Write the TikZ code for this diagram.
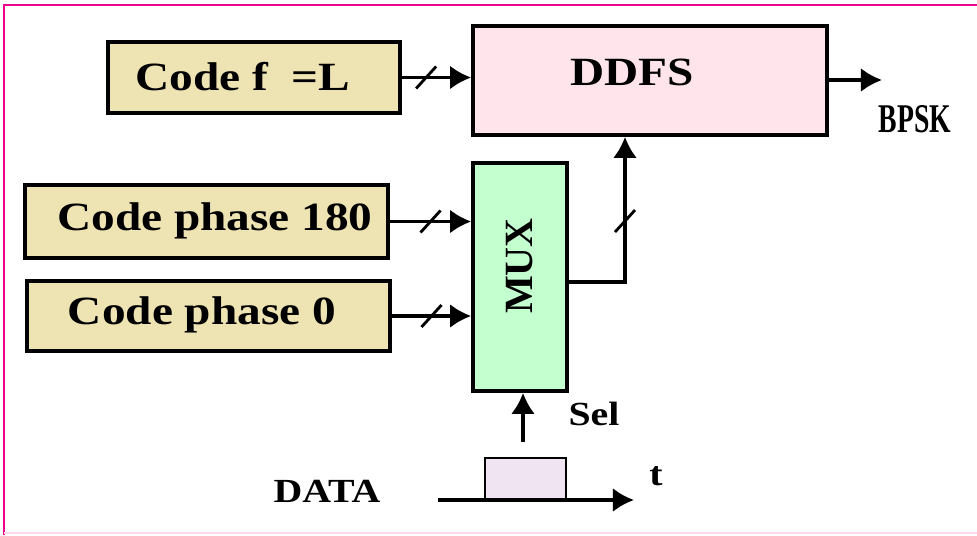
\documentclass[tikz,border=0pt]{standalone}
\usepackage{fontspec}
\usetikzlibrary{arrows.meta}
\newfontfamily\lblfont[FakeStretch=1.18]{Liberation Serif}
\newfontfamily\plainfont{Liberation Serif}
\newfontfamily\narrowfont[FakeStretch=0.68]{Liberation Serif}
\definecolor{codetan}{HTML}{EEE3B2}
\definecolor{ddfspink}{HTML}{FFE4EC}
\definecolor{muxgreen}{HTML}{C4FFD0}
\definecolor{pulselav}{HTML}{F0E4F2}
\tikzset{
  blockbox/.style={draw=black, line width=2.6pt, inner sep=0pt},
  lbl/.style={font=\lblfont\bfseries\fontsize{28.5}{30}\selectfont},
  smalllbl/.style={font=\lblfont\bfseries\fontsize{24}{26}\selectfont},
  sig/.style={line width=2.4pt, -{Latex[length=15pt,width=17pt]}},
  busmark/.style={line width=2pt}
}
\begin{document}
\begin{tikzpicture}[x=0.025cm, y=-0.025cm]
  \useasboundingbox (0,0) rectangle (977,535);
  % frame
  \draw[magenta, line width=1.5pt] (4,535) -- (4,5) -- (977,5);
  \draw[magenta!15, line width=1.2pt] (4,533) -- (977,533);

  % blocks
  \node[blockbox, fill=codetan, minimum width=7.3cm, minimum height=1.775cm] (codef) at (254,77.5) {};
  \node[lbl] (codeflbl) at (243,77) {Code f\ \ =L};
  \node[blockbox, fill=ddfspink, minimum width=8.85cm, minimum height=2.725cm] (ddfs) at (650,80.5) {};
  \node[lbl] (ddfslbl) at (632,72) {DDFS};
  \node[blockbox, fill=codetan, minimum width=9.075cm, minimum height=1.825cm] (ph180) at (206.5,221.5) {};
  \node[lbl] (ph180lbl) at (215,221) {Code phase 180};
  \node[blockbox, fill=codetan, minimum width=9.075cm, minimum height=1.75cm] (ph0) at (208.5,316) {};
  \node[lbl] (ph0lbl) at (202,315) {Code phase 0};
  \node[blockbox, fill=muxgreen, minimum width=2.35cm, minimum height=5.7cm] (mux) at (520,277) {};
  \node[font=\plainfont\bfseries\fontsize{28.5}{30}\selectfont, rotate=90] (muxlbl) at (520,266) {MUX};

  % labels
  \node[font=\narrowfont\bfseries\fontsize{29}{30}\selectfont] (bpsk) at (915,119) {BPSK};
  \node[smalllbl] (sel) at (594,414) {Sel};
  \node[smalllbl] (data) at (327,491) {DATA};
  \node[smalllbl] (tlbl) at (656,476) {t};

  % connectors
  \draw[sig] (codef.east) -- coordinate[pos=0.35] (b1) (codef.east -| ddfs.west);
  \draw[sig] (ph180.east) -- coordinate[pos=0.5] (b2) (ph180.east -| mux.west);
  \draw[sig] (ph0.east) -- coordinate[pos=0.5] (b3) (ph0.east -| mux.west);
  \coordinate (bpskend) at (882,80);
  \draw[sig] (ddfs.east |- bpskend) -- (bpskend);
  \coordinate (muxout) at (625,282);
  \draw[sig] (mux.east |- muxout) -- (muxout) -- coordinate[pos=0.42] (b4) (muxout |- ddfs.south);
  \coordinate (selfoot) at (523,442);
  \draw[sig] (selfoot) -- (selfoot |- mux.south);

  % bus marks
  \foreach \b in {b1,b2,b3,b4}
    \draw[busmark] (\b) ++(-10,11) -- ++(20,-22);

  % data pulse
  \coordinate (axstart) at (438,500);
  \coordinate (axend) at (634,500);
  \filldraw[fill=pulselav, line width=2pt] (485,500) -- (485,458) -- (566,458) -- (566,500);
  \draw[sig] (axstart) -- (axend);
\end{tikzpicture}
\end{document}
